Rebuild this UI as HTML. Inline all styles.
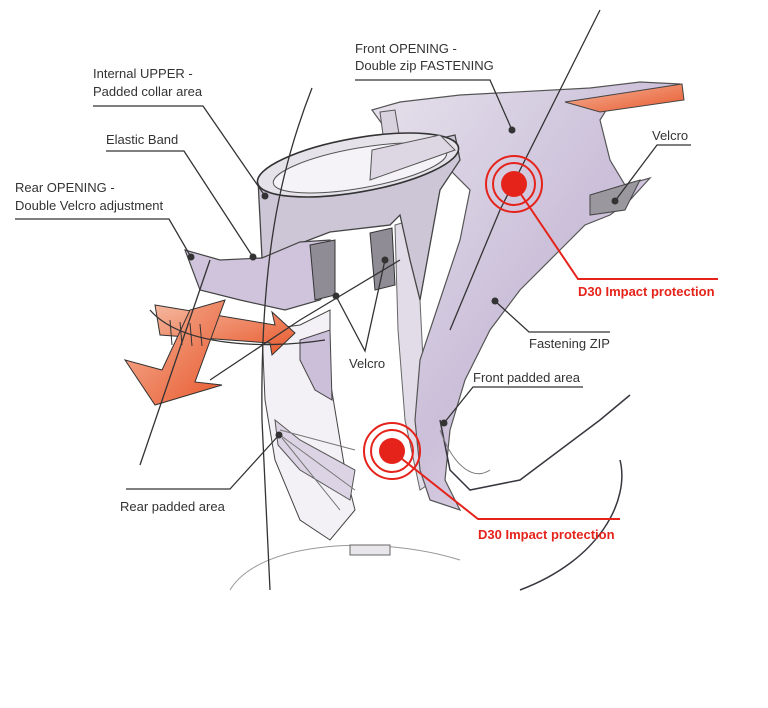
<!DOCTYPE html>
<html><head><meta charset="utf-8"><style>
html,body{margin:0;padding:0;background:#fff;}
svg{display:block;}
.t{font-family:"Liberation Sans",sans-serif;font-size:13px;fill:#333;}
.r{font-family:"Liberation Sans",sans-serif;font-size:13px;font-weight:bold;fill:#e5231b;}
.l{stroke:#333;stroke-width:1.3;fill:none;}
.s{stroke:#3a3640;stroke-width:1.5;fill:none;}
</style></head><body>
<svg width="768" height="708" viewBox="0 0 768 708" xmlns="http://www.w3.org/2000/svg">
<defs>
<linearGradient id="lv" x1="0" y1="0" x2="1" y2="1">
<stop offset="0" stop-color="#e6e2ec"/><stop offset="0.5" stop-color="#cbbfd9"/><stop offset="1" stop-color="#efeaf2"/></linearGradient>
<linearGradient id="or" x1="0" y1="0" x2="1" y2="1">
<stop offset="0" stop-color="#f5b79e"/><stop offset="1" stop-color="#e8582c"/></linearGradient>
</defs>
<!-- middle column -->
<path d="M395,225 L412,220 L420,300 L425,400 L435,480 L420,490 L405,420 L398,330 Z" fill="#e2dce8" stroke="#666" stroke-width="1"/>
<!-- front flap & body -->
<path d="M372,110 L400,102 L460,95 L590,88 L640,82 L680,84 L640,100 L610,104 L600,120 L610,160 L625,185 L650,178 L630,200 L610,215 L585,225 L560,250 L520,290 L490,330 L465,380 L450,430 L445,480 L460,510 L430,500 L420,470 L415,420 L420,360 L440,300 L460,240 L470,190 L450,170 L420,150 L390,135 Z" fill="url(#lv)" stroke="#555" stroke-width="1.2"/>
<path d="M565,102 L682,84 L684,100 L600,112 Z" fill="url(#or)" stroke="#444" stroke-width="1"/>
<path d="M380,112 L385,150 L400,140 L395,110 Z" fill="#d8d2df" stroke="#555"/>
<path d="M590,195 L640,180 L625,210 L590,215 Z" fill="#9a979e" stroke="#444"/>
<!-- collar -->
<path d="M258,180 L262,258 L330,232 L390,225 L400,215 L410,260 L420,300 L440,190 L460,160 L455,135 Z" fill="#cdc6d6" stroke="#444" stroke-width="1.3"/>
<ellipse cx="358" cy="165" rx="102" ry="27" transform="rotate(-10 358 165)" fill="#e6e2ea" stroke="#333" stroke-width="1.6"/>
<ellipse cx="360" cy="168" rx="88" ry="20" transform="rotate(-10 360 168)" fill="#f5f3f7" stroke="#555" stroke-width="1"/>
<path d="M370,180 L372,150 L440,135 L455,150 Z" fill="#ddd6e3" stroke="#555"/>
<!-- rear piece -->
<path d="M185,250 L200,290 L240,300 L285,310 L320,300 L330,290 L330,240 L300,242 L262,258 L220,260 Z" fill="#cfc4dc" stroke="#444" stroke-width="1.2"/>
<path d="M310,245 L335,240 L335,295 L315,300 Z" fill="#8f8c95" stroke="#333"/>
<path d="M370,233 L392,228 L395,285 L375,290 Z" fill="#8f8c95" stroke="#333"/>
<!-- lower rear -->
<path d="M262,330 L300,325 L330,310 L330,380 L345,470 L355,510 L330,540 L300,520 L275,460 L265,400 Z" fill="#f3f1f5" stroke="#444" stroke-width="1"/>
<path d="M275,420 L300,440 L355,470 L350,500 L300,470 L278,445 Z" fill="#dcd4e4" stroke="#555"/>
<path d="M280,430 L355,450 M280,435 L355,490 M282,438 L340,510" stroke="#777" stroke-width="1"/>
<path d="M300,340 L330,330 L332,400 L315,390 L300,360 Z" fill="#cbbfd9" stroke="#444"/>
<!-- front padded -->
<path d="M440,420 L450,470 L470,490 L520,480 L560,450 L600,420 L630,395" class="s"/>
<path d="M440,430 C455,470 475,480 490,470" stroke="#777" fill="none"/>
<path d="M230,590 C260,540 380,535 460,560" stroke="#999" fill="none"/>
<path d="M620,460 C630,500 600,560 520,590" class="s"/>
<rect x="350" y="545" width="40" height="10" fill="#e8e6ea" stroke="#666"/>
<!-- orange arrows -->
<path d="M155,305 L275,325 L272,312 L295,333 L272,355 L270,343 L160,335 Z" fill="url(#or)" stroke="#333" stroke-width="1"/>
<path d="M125,360 L155,405 L222,385 L195,382 L225,300 L190,310 L162,370 Z" fill="url(#or)" stroke="#333" stroke-width="1"/>
<path d="M170,320 L172,345 M180,322 L182,345 M190,323 L192,346 M200,324 L202,346" stroke="#333"/>
<!-- construction lines -->
<path d="M600,10 L500,210 L450,330" class="l"/>
<path d="M312,88 C280,170 260,260 262,420 L270,590" class="l"/>
<path d="M140,465 L210,260" class="l"/>
<path d="M210,380 L300,320 L400,260" class="l"/>
<path d="M150,310 C180,345 260,350 325,340" class="l"/>
<!-- leader lines -->
<g class="l">
<path d="M93,106 L203,106 L265,196"/>
<path d="M355,80 L490,80 L512,130"/>
<path d="M106,151 L184,151 L253,257"/>
<path d="M15,219 L169,219 L191,257"/>
<path d="M691,145 L657,145 L615,201"/>
<path d="M495,301 L529,332 L610,332"/>
<path d="M336,296 L365,351 L385,260"/>
<path d="M583,387 L473,387 L444,423"/>
<path d="M279,435 L230,489 L126,489"/>
</g>
<g fill="#333">
<circle cx="265" cy="196" r="3.5"/><circle cx="512" cy="130" r="3.5"/><circle cx="253" cy="257" r="3.5"/>
<circle cx="191" cy="257" r="3.5"/><circle cx="615" cy="201" r="3.5"/><circle cx="495" cy="301" r="3.5"/>
<circle cx="336" cy="296" r="3.5"/><circle cx="385" cy="260" r="3.5"/><circle cx="444" cy="423" r="3.5"/><circle cx="279" cy="435" r="3.5"/>
</g>
<g stroke="#e5231b" stroke-width="2" fill="none">
<path d="M514,184 L578,279 L718,279"/>
<path d="M392,451 L478,519 L620,519"/>
<circle cx="514" cy="184" r="21"/><circle cx="514" cy="184" r="28"/>
<circle cx="392" cy="451" r="21"/><circle cx="392" cy="451" r="28"/>
</g>
<circle cx="514" cy="184" r="13" fill="#e5231b"/>
<circle cx="392" cy="451" r="13" fill="#e5231b"/>
<!-- labels -->
<text class="t" x="93" y="78">Internal UPPER -</text>
<text class="t" x="93" y="96">Padded collar area</text>
<text class="t" x="355" y="53">Front OPENING -</text>
<text class="t" x="355" y="70">Double zip FASTENING</text>
<text class="t" x="106" y="144">Elastic Band</text>
<text class="t" x="15" y="192">Rear OPENING -</text>
<text class="t" x="15" y="210">Double Velcro adjustment</text>
<text class="t" x="652" y="140">Velcro</text>
<text class="r" x="578" y="296">D30 Impact protection</text>
<text class="t" x="529" y="348">Fastening ZIP</text>
<text class="t" x="349" y="368">Velcro</text>
<text class="t" x="473" y="382">Front padded area</text>
<text class="t" x="120" y="511">Rear padded area</text>
<text class="r" x="478" y="539">D30 Impact protection</text>
</svg>
</body></html>
